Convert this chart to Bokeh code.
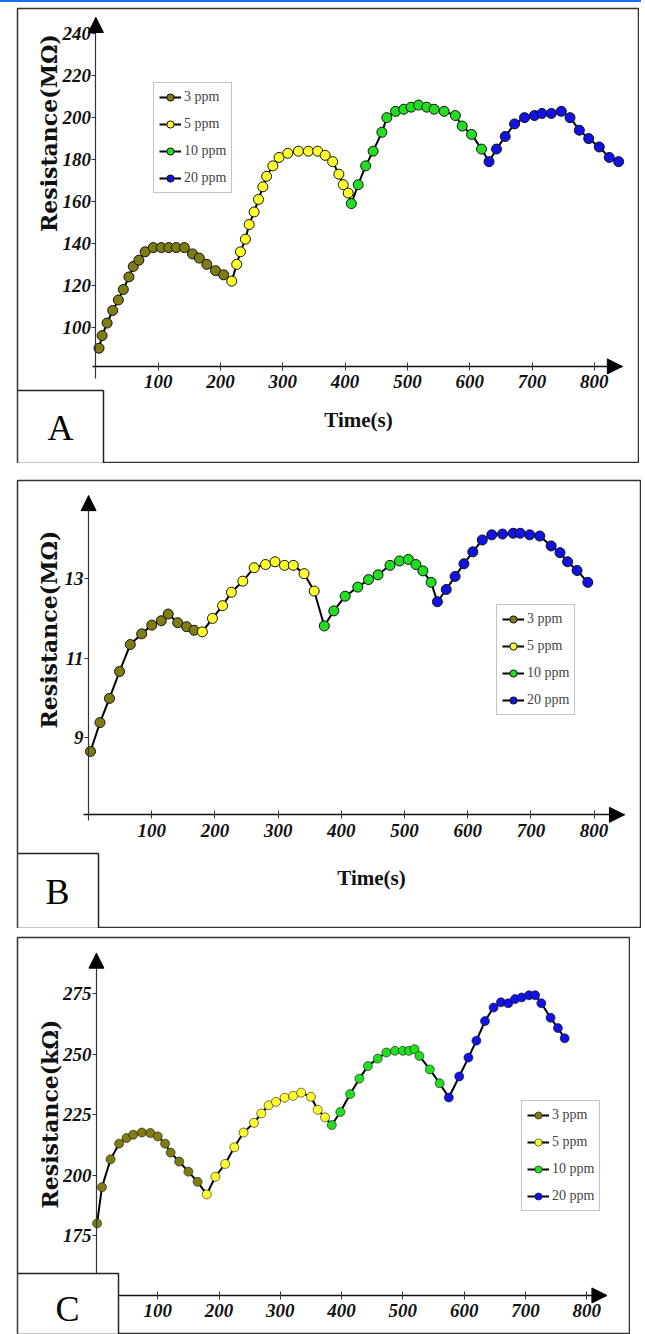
import math
from bokeh.plotting import figure
from bokeh.models import (Range1d, LinearAxis, FixedTicker, Arrow, NormalHead, Label,
                          BoxAnnotation, Legend, LegendItem)
from bokeh.layouts import column
from bokeh.embed import file_html
from bokeh.resources import INLINE

# ---------------- data ----------------
SERIES = ["3 ppm", "5 ppm", "10 ppm", "20 ppm"]
COLORS = ["#7e7c12", "#ffff2e", "#22dd22", "#1212e2"]

# Panel A  (Time s, Resistance MOhm)
a3_t = [5, 10, 18, 27, 36, 44, 53, 60, 69, 79, 92, 105, 117, 129, 142, 155, 166, 178, 192, 205]
a3_v = [90, 96, 102, 108, 113, 118, 124, 129, 132, 136, 138, 138, 138, 138, 138, 135, 133, 130, 127, 125]
a5_t = [218, 226, 232, 240, 246, 254, 261, 268, 274, 284, 294, 308, 325, 341, 356, 368, 380, 390, 397, 405]
a5_v = [122, 130, 136, 142, 149, 155, 161, 167, 172, 177, 181, 183, 184, 184, 184, 182, 179, 173, 168, 164]
a10_t = [410, 421, 433, 445, 459, 467, 481, 494, 506, 518, 531, 543, 559, 577, 588, 603, 619]
a10_v = [159, 168, 177, 184, 193, 200, 203, 204, 205, 206, 205, 204, 203, 201, 196, 192, 185]
a20_t = [631, 643, 657, 672, 688, 704, 716, 731, 747, 761, 776, 791, 808, 824, 839]
a20_v = [179, 185, 191, 197, 200, 201, 202, 202, 203, 200, 194, 190, 186, 181, 179]

# Panel B  (Time s, Resistance MOhm)
b3_t = [3, 18, 33, 49, 66, 84, 100, 115, 126, 141, 155, 167]
b3_v = [8.64, 9.37, 9.98, 10.66, 11.34, 11.61, 11.83, 11.94, 12.11, 11.89, 11.79, 11.70]
b5_t = [180, 196, 212, 226, 244, 262, 280, 295, 310, 324, 341, 357]
b5_v = [11.66, 12.0, 12.32, 12.66, 12.94, 13.28, 13.36, 13.43, 13.34, 13.34, 13.13, 12.69]
b10_t = [373, 388, 406, 426, 443, 458, 477, 492, 506, 518, 529, 542]
b10_v = [11.81, 12.19, 12.56, 12.79, 12.98, 13.10, 13.34, 13.45, 13.49, 13.36, 13.20, 12.91]
b20_t = [552, 566, 580, 594, 608, 623, 638, 655, 672, 683, 698, 714, 732, 746, 758, 773, 790]
b20_v = [12.42, 12.73, 13.06, 13.38, 13.68, 13.98, 14.11, 14.13, 14.15, 14.15, 14.11, 14.08,
         13.83, 13.66, 13.43, 13.21, 12.91]

# Panel C  (Time s, Resistance kOhm)
c3_t = [1, 9, 23, 37, 49, 60, 74, 88, 100, 112, 121, 135, 150, 165]
c3_v = [180, 195, 206.5, 213, 215.3, 216.7, 217.6, 217.4, 216, 213, 209.3, 205.6, 201.4, 197.2]
c5_t = [180, 194, 210, 225, 240, 257, 269, 281, 293, 307, 321, 334, 350, 361, 373]
c5_v = [192, 199.3, 204.6, 211.5, 217.6, 221.6, 225.5, 228.9, 230.3, 232, 232.8, 234.1, 232.4, 227, 223.9]
c10_t = [384, 398, 414, 429, 443, 459, 473, 487, 500, 510, 519, 527, 544, 560]
c10_v = [220.7, 226.1, 233.5, 239.9, 245.1, 248.2, 250.7, 251.4, 251.4, 251.4, 252.1, 249.3, 243.7, 238]
c20_t = [575, 592, 607, 620, 634, 648, 660, 672, 683, 694, 706, 716, 726, 741, 753, 764]
c20_v = [232.1, 240.8, 248.6, 255.6, 263.7, 269.3, 271.5, 271.1, 272.8, 273.5, 274.4, 274.4,
         271.1, 265.1, 260.8, 256.6]

X_TICKS = [100, 200, 300, 400, 500, 600, 700, 800]
A_YTICKS = [100, 120, 140, 160, 180, 200, 220, 240]
B_YTICKS = [9, 11, 13]
C_YTICKS = [175, 200, 225, 250, 275]

TICK_FONT = "Liberation Serif"


def make_panel(times, values, yticks, cfg):
    fx0, fy0, fx1, fy1 = cfg["frame"]
    fig_top = cfg["fig_top"]
    t0px, ppx = cfg["xcal"]
    vref, pyref, ppy = cfg["ycal"]
    xs = (fx0 - t0px) / ppx
    xe = (fx1 - t0px) / ppx
    ye = vref + (pyref - fy0) / ppy
    ys = vref - (fy1 - pyref) / ppy

    p = figure(width=int(fx1), height=int(fy1 - fig_top),
               x_range=Range1d(xs, xe), y_range=Range1d(ys, ye),
               x_axis_type=None, y_axis_type=None,
               toolbar_location=None, output_backend="svg",
               min_border_left=int(fx0), min_border_right=0,
               min_border_top=int(fy0 - fig_top), min_border_bottom=0)
    p.xgrid.visible = False
    p.ygrid.visible = False
    p.outline_line_color = "#333333"
    p.outline_line_width = 1.5
    p.background_fill_color = "white"
    p.border_fill_color = "white"

    x_axis_v = cfg["xaxis_at"]
    x_tip = cfg["x_tip"]
    y_tip = cfg["y_tip"]

    xax = LinearAxis(fixed_location=x_axis_v, ticker=FixedTicker(ticks=X_TICKS),
                     bounds=(cfg["xaxis_from"], x_tip))
    xax.axis_line_color = "#111111"
    xax.axis_line_width = 1.6
    xax.major_tick_in = 4
    xax.major_tick_out = 4
    xax.major_tick_line_color = "#333333"
    xax.minor_tick_line_color = None
    xax.major_label_text_font = TICK_FONT
    xax.major_label_text_font_style = "bold italic"
    xax.major_label_text_font_size = "19px"
    xax.major_label_text_color = "#111111"
    xax.major_label_standoff = 5
    p.add_layout(xax, "below")

    yax = LinearAxis(fixed_location=0, ticker=FixedTicker(ticks=yticks),
                     bounds=(cfg["yaxis_from"], y_tip))
    yax.axis_line_color = "#333333"
    yax.axis_line_width = 1.2
    yax.major_tick_in = 0
    yax.major_tick_out = 4
    yax.major_tick_line_color = "#333333"
    yax.minor_tick_line_color = None
    yax.major_label_text_font = TICK_FONT
    yax.major_label_text_font_style = "bold italic"
    yax.major_label_text_font_size = "19px"
    yax.major_label_text_color = "#111111"
    yax.major_label_standoff = 1
    p.add_layout(yax, "left")

    # axis arrow heads
    p.add_layout(Arrow(end=NormalHead(size=15, fill_color="black", line_color="black"),
                       x_start=x_tip - 1, y_start=x_axis_v, x_end=x_tip, y_end=x_axis_v,
                       line_color="black", line_width=1))
    p.add_layout(Arrow(end=NormalHead(size=15, fill_color="black", line_color="black"),
                       x_start=0, y_start=y_tip - (ye - ys) * 0.002, x_end=0, y_end=y_tip,
                       line_color="black", line_width=1))

    # continuous black line through all series
    all_t = [t for ts in times for t in ts]
    all_v = [v for vs in values for v in vs]
    line_r = p.line(all_t, all_v, line_color="black", line_width=2)

    scat = []
    for ts, vs, col in zip(times, values, COLORS):
        r = p.scatter(ts, vs, size=cfg["msize"], marker="circle", fill_color=col,
                      line_color="#111111", line_width=cfg["mline"])
        scat.append(r)

    items = [LegendItem(label=name, renderers=[line_r, r]) for name, r in zip(SERIES, scat)]
    legend = Legend(items=items, location=cfg["legend_loc"])
    legend.label_text_font = "Liberation Serif"
    legend.label_text_font_size = "14px"
    legend.label_height = 18
    legend.glyph_height = 18
    legend.glyph_width = 22
    legend.spacing = 9
    legend.padding = 5
    legend.margin = 0
    legend.label_standoff = 3
    legend.border_line_color = "#888888"
    legend.border_line_width = 1
    legend.background_fill_color = "white"
    legend.background_fill_alpha = 1
    p.add_layout(legend)

    # axis titles
    ylx, yly = cfg["ylabel_pos"]
    p.add_layout(Label(x=ylx, y=yly, x_units="screen", y_units="screen", text=cfg["ylabel"],
                       angle=math.pi / 2, text_align="center", text_baseline="middle",
                       text_font="DejaVu Serif", text_font_style="bold",
                       text_font_size="22px", text_color="#111111"))
    if cfg.get("xlabel_pos") is not None:
        xlx, xly = cfg["xlabel_pos"]
        p.add_layout(Label(x=xlx, y=xly, x_units="screen", y_units="screen", text="Time(s)",
                           text_align="center", text_baseline="middle",
                           text_font="Liberation Serif", text_font_style="bold",
                           text_font_size="21px", text_color="#111111"))

    # panel letter box
    bw, bh = cfg["letter_box"]
    p.add_layout(BoxAnnotation(left=0, right=bw, bottom=0, top=bh,
                               left_units="screen", right_units="screen",
                               bottom_units="screen", top_units="screen",
                               fill_color="white", fill_alpha=1.0,
                               line_color="#222222", line_alpha=1.0, line_width=1.5))
    lcx, lcy = cfg["letter_pos"]
    p.add_layout(Label(x=lcx, y=lcy, x_units="screen", y_units="screen", text=cfg["letter"],
                       text_align="center", text_baseline="middle",
                       text_font="Liberation Serif", text_font_size="36px",
                       text_color="black"))
    return p


# page coordinates (the exported page has no body margin; a 2px rule sits on top)
cfgA = dict(frame=(17, 8, 639, 463), fig_top=2,
            xcal=(95.4, 0.623), ycal=(240, 33.3, 2.096),
            xaxis_at=81.3, xaxis_from=-5, x_tip=845, y_tip=247.8, yaxis_from=75.6,
            msize=10, mline=1,
            legend_loc=(136, 270),
            ylabel="Resistance(MΩ)", ylabel_pos=(31.5, 330.5), xlabel_pos=(341, 44),
            letter_box=(86, 73), letter_pos=(43, 36), letter="A")

cfgB = dict(frame=(17, 480, 641, 928), fig_top=463,
            xcal=(88.1, 0.6319), ycal=(13, 578.3, 39.6),
            xaxis_at=7.04, xaxis_from=-8, x_tip=848, y_tip=15.1, yaxis_from=6.9,
            msize=10, mline=1,
            legend_loc=(479, 213),
            ylabel="Resistance(MΩ)", ylabel_pos=(31.5, 299), xlabel_pos=(354, 51),
            letter_box=(81, 75), letter_pos=(40, 37), letter="B")

cfgC = dict(frame=(5, 937, 630, 1334), fig_top=928,
            xcal=(85.5, 0.6248), ycal=(275, 993.3, 2.417),
            xaxis_at=150.2, xaxis_from=-20, x_tip=833, y_tip=291.8, yaxis_from=140,
            msize=9, mline=0.6,
            legend_loc=(504, 123),
            ylabel="Resistance(kΩ)", ylabel_pos=(32.5, 220.5), xlabel_pos=None,
            letter_box=(101, 61), letter_pos=(50, 26), letter="C")

pA = make_panel([a3_t, a5_t, a10_t, a20_t], [a3_v, a5_v, a10_v, a20_v], A_YTICKS, cfgA)
pB = make_panel([b3_t, b5_t, b10_t, b20_t], [b3_v, b5_v, b10_v, b20_v], B_YTICKS, cfgB)
pC = make_panel([c3_t, c5_t, c10_t, c20_t], [c3_v, c5_v, c10_v, c20_v], C_YTICKS, cfgC)

layout = column(pA, pB, pC, spacing=0, styles={"border-top": "2px solid #1a6ff0"})
open("out.html", "w").write(file_html(layout, INLINE))
